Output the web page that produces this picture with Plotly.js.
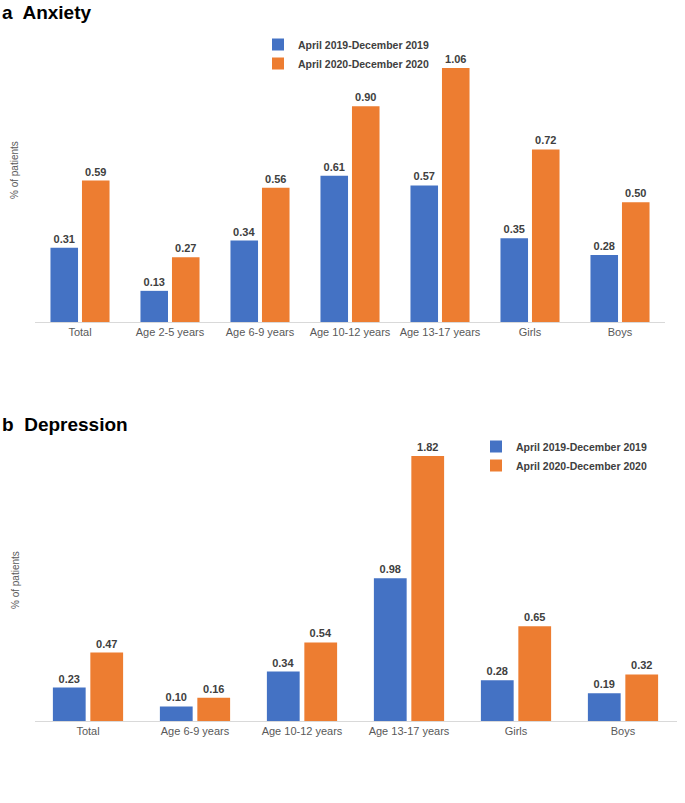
<!DOCTYPE html>
<html><head><meta charset="utf-8">
<script src="https://cdn.plot.ly/plotly-3.0.1.min.js"></script>
<style>html,body{margin:0;padding:0;background:#fff}</style>
</head><body>
<div id="chart" style="width:685px;height:803px"></div>
<script>
const seriesNames = ["April 2019-December 2019", "April 2020-December 2020"];
const anxietyCats = ["Total", "Age 2-5 years", "Age 6-9 years", "Age 10-12 years", "Age 13-17 years", "Girls", "Boys"];
const anxiety2019 = [0.31, 0.13, 0.34, 0.61, 0.57, 0.35, 0.28];
const anxiety2020 = [0.59, 0.27, 0.56, 0.90, 1.06, 0.72, 0.50];
const depressionCats = ["Total", "Age 6-9 years", "Age 10-12 years", "Age 13-17 years", "Girls", "Boys"];
const depression2019 = [0.23, 0.10, 0.34, 0.98, 0.28, 0.19];
const depression2020 = [0.47, 0.16, 0.54, 1.82, 0.65, 0.32];

const BLUE = "#4472C4", ORANGE = "#ED7D31";
const FONT = "Liberation Sans, Arial, sans-serif";
const labelFont = {family: FONT, size: 11, color: "#404040", weight: "bold"};

function bar(x, y, name, color, xa, ya, legend) {
  return {
    type: "bar", x: x, y: y, name: name, xaxis: xa, yaxis: ya, legend: legend,
    marker: {color: color},
    text: y.map(v => v.toFixed(2)), textposition: "outside", cliponaxis: false,
    textfont: labelFont, hoverinfo: "skip"
  };
}

const data = [
  bar(anxietyCats, anxiety2019, seriesNames[0], BLUE, "x", "y", "legend"),
  bar(anxietyCats, anxiety2020, seriesNames[1], ORANGE, "x", "y", "legend"),
  bar(depressionCats, depression2019, seriesNames[0], BLUE, "x2", "y2", "legend2"),
  bar(depressionCats, depression2020, seriesNames[1], ORANGE, "x2", "y2", "legend2")
];

const xStyle = {
  showline: true, linecolor: "#d9d9d9", linewidth: 1, ticks: "", showgrid: false,
  tickfont: {family: FONT, size: 11, color: "#595959"}, fixedrange: true
};
const yStyle = {showgrid: false, zeroline: false, showticklabels: false, showline: false, fixedrange: true};

const legendStyle = {
  font: {family: FONT, size: 10.5, color: "#404040", weight: "bold"},
  bgcolor: "rgba(0,0,0,0)", itemwidth: 30, tracegroupgap: 0
};

const layout = {
  width: 685, height: 803,
  margin: {l: 0, r: 0, t: 0, b: 0},
  paper_bgcolor: "#fff", plot_bgcolor: "#fff",
  barmode: "group", bargap: 0.3, bargroupgap: 0.125,
  font: {family: FONT},
  xaxis: Object.assign({}, xStyle, {domain: [35/685, 665/685], anchor: "y"}),
  yaxis: Object.assign({}, yStyle, {domain: [1 - 322/803, 1 - 58.4/803], range: [0, 1.1], anchor: "x"}),
  xaxis2: Object.assign({}, xStyle, {domain: [34.5/685, 676.5/685], anchor: "y2"}),
  yaxis2: Object.assign({}, yStyle, {domain: [1 - 721/803, 1 - 444.4/803], range: [0, 1.9], anchor: "x2"}),
  legend: Object.assign({}, legendStyle, {x: 258/685, y: 1 - 30/803, xanchor: "left", yanchor: "top"}),
  legend2: Object.assign({}, legendStyle, {x: 476/685, y: 1 - 432/803, xanchor: "left", yanchor: "top"}),
  annotations: [
    {text: "<b>a  Anxiety</b>", x: 0, y: 1 - 0/803, xref: "paper", yref: "paper", xanchor: "left", yanchor: "top",
     showarrow: false, font: {family: FONT, size: 19, color: "#000"}},
    {text: "<b>b  Depression</b>", x: 0, y: 1 - 412/803, xref: "paper", yref: "paper", xanchor: "left", yanchor: "top",
     showarrow: false, font: {family: FONT, size: 19, color: "#000"}},
    {text: "% of patients", x: 15/685, y: 1 - 170/803, xref: "paper", yref: "paper", textangle: -90,
     xanchor: "center", yanchor: "middle",
     showarrow: false, font: {family: FONT, size: 10, color: "#595959"}},
    {text: "% of patients", x: 15/685, y: 1 - 580/803, xref: "paper", yref: "paper", textangle: -90,
     xanchor: "center", yanchor: "middle",
     showarrow: false, font: {family: FONT, size: 10, color: "#595959"}}
  ]
};

Plotly.newPlot("chart", data, layout, {displayModeBar: false, staticPlot: true});
</script>
</body></html>
